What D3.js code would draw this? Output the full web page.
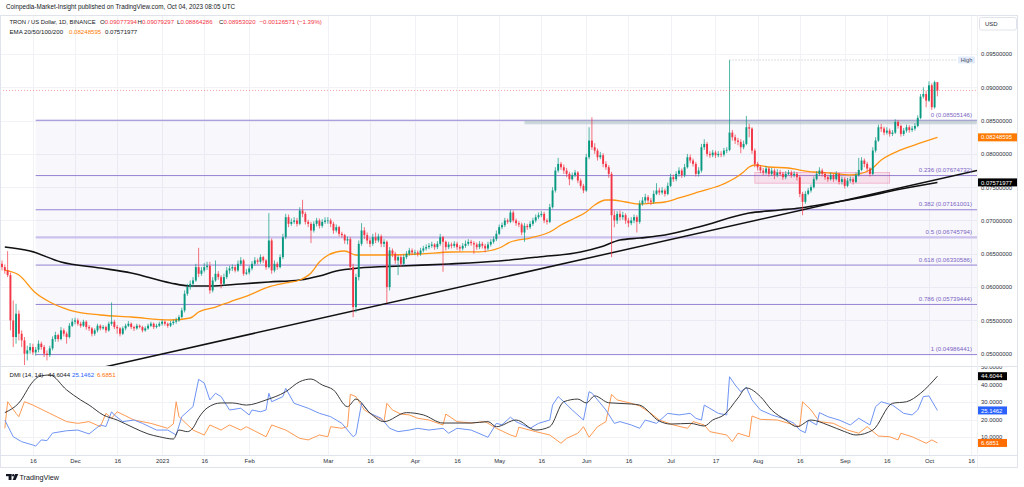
<!DOCTYPE html>
<html>
<head>
<meta charset="utf-8">
<script src="https://d3js.org/d3.v7.min.js"></script>
<style>
  body { margin: 0; background: #fff; }
  svg { display: block; font-family: "Liberation Sans", Arial, sans-serif; }
</style>
</head>
<body>
<svg id="chart" width="1024" height="487"></svg>
<script>
// ---- data (prices in 1e-5 USD) ----
var firstDay = "2022-11-05";
var P = 1e-5;
var firstOpen = 6350;

var closes = [
  // Nov
  6300,6250,6180,5500,5250,5600,5300,5200,5000,5050,5100,5020,5060,5150,5100,5000,4980,5080,5220,5280,5220,5350,5300,5250,5420,5480,
  // Dec
  5500,5450,5420,5480,5400,5380,5300,5350,5420,5380,5400,5350,5450,5480,5400,5380,5300,5380,5420,5450,5400,5380,5420,5400,5350,5380,5420,5450,5400,5420,5450,
  // Jan
  5480,5450,5420,5460,5480,5500,5550,5650,5900,6000,6050,6100,6300,6200,6250,6300,6320,5950,6100,6200,6150,6050,6150,6250,6280,6300,6250,6350,6400,6200,6220,
  // Feb
  6280,6350,6400,6380,6450,6400,6300,6700,6250,6350,6300,6450,6750,7050,6950,6980,7000,6950,7150,7100,6980,6950,6850,6950,7000,6920,6980,7000,
  // Mar
  7000,6950,6850,6900,6800,6780,6700,6720,6300,5700,6150,6650,6850,6780,6700,6650,6750,6700,6760,6650,6680,6000,6550,6500,6400,6450,6350,6450,6500,6550,6520,
  // Apr
  6520,6500,6550,6580,6600,6620,6640,6600,6650,6750,6680,6600,6640,6620,6650,6600,6580,6620,6650,6680,6660,6640,6600,6650,6620,6580,6640,6680,6720,6800,
  // May
  6900,6930,7000,6980,7120,7000,6960,6940,6820,6920,6900,6950,7000,7050,7080,7100,7000,6980,7200,7450,7750,7850,7800,7750,7700,7620,7680,7720,7600,7520,7450,
  // Jun
  7950,8200,8100,8050,7950,7980,7850,7800,7700,7080,7000,7100,7050,7080,7000,6960,7000,7050,6980,7250,7300,7350,7300,7280,7400,7450,7420,7450,7400,7520,
  // Jul
  7650,7620,7700,7750,7680,7800,7950,7900,7850,7700,7750,8100,8150,8000,7980,8020,7980,8000,7990,8050,8060,8320,8250,8200,8180,8100,8150,8400,8380,8050,7850,
  // Aug
  7800,7750,7720,7780,7700,7750,7680,7720,7700,7650,7700,7720,7680,7700,7650,7400,7280,7400,7450,7500,7620,7700,7750,7700,7650,7620,7680,7620,7700,7580,7620,
  // Sep
  7520,7600,7620,7580,7680,7760,7900,7850,7780,7700,8050,8200,8400,8380,8320,8350,8300,8320,8480,8420,8300,8350,8400,8360,8380,8420,8540,8860,8900,8800,
  // Oct
  9030,8700,9077,8953
];

var highs = [
  6400,6340,6540,6220,5800,5750,5650,5350,5250,5120,5160,5150,5100,5200,5180,5130,5050,5120,5260,5330,5300,5400,5380,5330,5460,5530,
  5540,5530,5480,5510,5500,5430,5400,5380,5450,5440,5430,5420,5480,5770,5510,5430,5400,5410,5450,5490,5470,5420,5450,5440,5420,5410,5450,5480,5470,5450,5480,
  5510,5500,5470,5490,5510,5540,5580,5690,5950,6050,6100,6150,6350,6590,6300,6360,6380,6380,6150,6400,6240,6180,6200,6300,6320,6340,6330,6400,6450,6420,6270,
  6320,6390,6450,6430,6490,6470,6420,7110,6730,6400,6380,6490,6800,7100,7090,7030,7050,7040,7200,7310,7130,7010,6980,6990,7040,7030,7020,7050,
  7050,7030,6980,6940,6920,6830,6800,6760,6750,6350,6200,6700,6960,6900,6820,6740,6800,6820,6800,6790,6720,6700,6600,6580,6530,6480,6480,6490,6540,6590,6580,
  6560,6550,6590,6620,6640,6660,6680,6660,6690,6800,6770,6700,6680,6670,6690,6680,6630,6660,6700,6720,6710,6690,6670,6690,6680,6650,6680,6720,6760,6850,
  6940,6970,7040,7030,7160,7150,7030,6990,6970,6960,6950,6990,7040,7090,7120,7140,7130,7030,7250,7500,7800,7940,7880,7840,7790,7730,7720,7760,7740,7630,7550,
  8000,8400,8550,8160,8080,8030,8010,7890,7830,7730,7150,7140,7150,7130,7110,7040,7050,7090,7080,7300,7350,7400,7380,7340,7450,7560,7490,7500,7480,7570,
  7700,7690,7740,7800,7780,7850,8000,7990,7930,7880,7800,8150,8220,8180,8040,8060,8050,8040,8040,8090,8100,9410,8360,8290,8240,8220,8200,8570,8450,8400,8080,
  7880,7830,7790,7820,7800,7790,7780,7770,7760,7730,7740,7760,7750,7740,7730,7680,7430,7440,7490,7540,7660,7740,7800,7780,7730,7680,7720,7700,7740,7720,7660,
  7650,7640,7660,7650,7720,7940,7950,7930,7880,7800,8100,8250,8440,8450,8410,8400,8380,8360,8520,8510,8440,8390,8440,8430,8420,8460,8580,8900,9000,8950,
  9090,9060,9100,9079
];

var lows = [
  6250,6200,6150,5350,5100,5150,5200,5100,4830,4900,5000,4980,4970,5020,5060,4950,4900,4950,5050,5180,5180,5200,5260,5150,5230,5400,
  5440,5420,5390,5400,5360,5340,5260,5270,5320,5350,5360,5310,5330,5420,5370,5300,5260,5280,5350,5400,5370,5340,5360,5380,5320,5330,5360,5400,5370,5380,5400,
  5420,5420,5390,5400,5430,5450,5480,5530,5620,5870,5960,6000,6080,6150,6170,6220,6260,5900,5920,6080,6110,5980,6020,6120,6200,6240,6220,6230,6320,6170,6180,
  6190,6250,6320,6340,6350,6360,6260,6280,6200,6220,6260,6280,6420,6720,6900,6920,6950,6910,6930,7050,6940,6900,6660,6820,6910,6880,6890,6950,
  6950,6900,6800,6820,6760,6740,6650,6640,6250,5550,5620,6100,6620,6720,6650,6600,6620,6660,6670,6600,6600,5760,5950,6450,6350,6180,6300,6320,6420,6470,6480,
  6480,6460,6470,6520,6550,6570,6590,6560,6570,6620,6230,6550,6570,6580,6590,6560,6540,6550,6590,6620,6620,6500,6560,6570,6580,6520,6550,6610,6650,6690,
  6780,6870,6900,6950,6960,6970,6920,6900,6780,6680,6860,6870,6920,6970,7020,7050,6960,6940,6960,7180,7420,7720,7760,7700,7650,7530,7600,7650,7560,7480,7410,
  7430,7920,8060,8000,7900,7920,7800,7760,7640,6450,6900,6950,7000,7010,6950,6900,6930,6960,6820,6950,7220,7260,7250,7230,7250,7380,7380,7390,7360,7380,
  7500,7580,7590,7660,7640,7650,7780,7860,7810,7660,7660,7720,8060,7960,7940,7950,7940,7950,7950,7960,8010,8040,8200,8150,8130,8010,8070,8130,8250,8000,7800,
  7750,7710,7680,7690,7660,7670,7620,7650,7670,7610,7620,7680,7640,7650,7600,7350,7080,7250,7380,7420,7480,7600,7670,7660,7610,7580,7600,7580,7600,7540,7540,
  7480,7500,7570,7540,7560,7660,7740,7800,7740,7660,7680,8020,8180,8330,8280,8290,8260,8270,8300,8380,8260,8270,8320,8320,8330,8350,8400,8520,8830,8700,
  8780,8660,8680,8864
];

// EMA lines: [day index, price]
var emaOrange = [[1,0.06256],[6,0.06182],[12,0.05911],[17,0.05776],[24,0.05656],[35,0.05581],[46,0.05551],[60,0.05506],
  [67,0.05536],[70,0.05626],[76,0.05701],[81,0.05776],[88,0.05881],[95,0.06002],[101,0.06062],[106,0.06107],[110,0.06212],
  [113,0.06377],[119,0.06527],[122,0.06542],[126,0.06482],[135,0.06482],[149,0.06497],[160,0.06527],[170,0.06530],
  [177,0.06587],[181,0.06677],[188,0.06737],[195,0.06827],[199,0.06932],[204,0.07037],[208,0.07128],[211,0.07233],
  [215,0.07308],[217,0.07308],[222,0.07278],[227,0.07248],[232,0.07263],[236,0.07278],[241,0.07338],[248,0.07428],
  [256,0.07533],[261,0.07638],[264,0.07728],[266,0.07803],[268,0.07833],[273,0.07803],[280,0.07788],[284,0.07758],
  [289,0.07728],[295,0.07713],[302,0.07683],[309,0.07758],[313,0.07908],[320,0.08059],[327,0.08164],[333,0.08248595]];
var emaBlack = [[1,0.06602],[10,0.06542],[21,0.06377],[35,0.06287],[46,0.06212],[60,0.06062],[67,0.06017],[74,0.06017],
  [85,0.06047],[95,0.06077],[106,0.06107],[113,0.06167],[119,0.06242],[127,0.06287],[142,0.06317],[159,0.06347],
  [177,0.06392],[191,0.06452],[206,0.06527],[213,0.06602],[220,0.06707],[227,0.06737],[236,0.06782],[248,0.06902],
  [266,0.07112],[277,0.07158],[284,0.07188],[295,0.07263],[305,0.07338],[320,0.07473],[333,0.07571977]];

// trendline anchors
var trendDates = ["2022-12-13", "2023-10-17"];
var trendPrices = [0.04815, 0.0774];

// fibonacci retracement
var fibRatios = ["0", "0.236", "0.382", "0.5", "0.618", "0.786", "1"];
var fibPrices = [0.08505146, 0.07674732, 0.07161001, 0.06745794, 0.06330586, 0.05739444, 0.04986441];
var fibStart = "2022-11-17";

// drawn rectangles: [start date, end date, top price, bottom price]
var greyZone = ["2023-05-10", "2023-10-18", 0.08505, 0.08445];
var pinkZone = ["2023-07-31", "2023-09-17", 0.0772, 0.0756];

// DMI (14,14): [day index, value]
var adx = [[1,23.9],[6,29.4],[11,41.5],[13,44.3],[17,45.3],[23,36.8],[28,31.1],[31,28.2],[36,22.6],[41,19.7],[47,15.2],
  [52,11.8],[56,10.2],[61,8.9],[63,14.0],[66,13.1],[68,15.2],[70,20.9],[73,26.5],[78,29.4],[82,29.4],[87,28.2],[94,31.1],
  [101,35.8],[106,41.5],[110,43.0],[114,39.6],[118,36.8],[123,27.3],[126,31.6],[131,23.7],[136,18.8],[144,23.9],[150,22.6],
  [157,18.0],[167,18.0],[173,18.8],[176,15.9],[183,19.7],[190,14.0],[195,15.9],[200,30.1],[205,31.6],[208,29.4],[211,33.4],
  [216,29.5],[224,28.8],[227,28.2],[234,19.1],[238,17.4],[245,17.8],[250,16.3],[253,19.7],[257,22.6],[262,32.2],[265,37.9],
  [270,33.0],[274,25.4],[279,19.7],[283,15.9],[288,19.7],[294,16.9],[300,13.1],[304,11.2],[310,14.0],[317,29.2],[322,30.1],
  [327,34.9],[333,44.6044]];
var diPlus = [[1,19.7],[4,10.2],[7,7.4],[11,5.5],[12,4.9],[14,8.4],[16,8.0],[18,12.3],[23,13.6],[27,14.0],[31,11.8],[35,16.9],
  [37,16.0],[39,24.4],[40,22.5],[43,18.8],[47,19.7],[50,17.8],[55,14.0],[59,14.0],[62,11.2],[64,21.6],[68,27.3],[70,42.8],
  [72,40.7],[74,31.1],[76,34.9],[78,33.0],[81,25.4],[85,26.4],[88,22.6],[89,25.4],[92,24.4],[94,25.4],[95,34.9],[96,30.1],
  [100,33.0],[101,37.7],[104,29.2],[109,26.4],[113,23.5],[117,21.6],[121,17.8],[125,10.2],[126,11.5],[128,29.2],[131,23.5],
  [135,20.7],[138,15.0],[141,13.1],[145,14.0],[148,15.0],[152,14.0],[157,15.0],[159,12.2],[162,15.0],[167,14.0],[173,9.9],
  [176,17.8],[178,17.0],[181,21.3],[183,18.8],[188,15.0],[191,17.8],[195,19.7],[196,28.2],[198,33.0],[200,30.1],[203,25.4],
  [207,19.7],[209,35.8],[210,35.0],[215,25.4],[218,17.8],[220,18.8],[224,16.9],[227,15.0],[229,19.7],[233,17.8],[237,23.5],
  [241,22.6],[245,23.5],[247,20.7],[249,19.7],[250,28.2],[255,23.5],[258,22.6],[259,44.3],[261,39.6],[263,35.8],[265,38.3],
  [267,31.1],[270,25.4],[274,22.6],[279,20.1],[282,17.8],[284,14.0],[286,12.5],[287,19.7],[290,16.9],[291,23.9],[294,21.6],
  [298,19.7],[302,16.9],[305,20.7],[309,16.9],[311,27.3],[313,30.1],[317,28.2],[321,23.5],[324,22.6],[326,25.4],[328,33.0],
  [330,33.4],[333,25.1462]];
var diMinus = [[1,15.0],[2,30.1],[5,23.5],[6,21.6],[8,30.1],[11,28.2],[17,23.5],[23,18.8],[27,17.8],[31,18.8],[35,15.9],
  [37,23.5],[39,20.7],[41,24.4],[47,19.7],[53,17.8],[59,15.0],[61,17.5],[62,30.1],[63,21.6],[68,14.0],[72,11.2],[74,16.9],
  [78,14.0],[81,16.9],[85,14.0],[87,15.9],[94,10.2],[96,16.9],[101,14.0],[106,9.3],[109,8.4],[113,11.2],[116,10.2],[117,15.9],
  [121,15.0],[123,15.9],[124,34.3],[126,33.0],[129,25.4],[131,23.5],[135,20.1],[136,18.8],[137,29.2],[139,25.4],[142,23.1],
  [145,22.6],[148,20.7],[152,19.7],[157,16.9],[158,23.1],[162,18.8],[167,18.0],[172,18.8],[176,15.0],[181,11.2],[183,10.2],
  [184,15.6],[190,13.1],[195,11.2],[199,6.5],[201,9.3],[205,12.2],[207,15.9],[209,9.9],[212,15.9],[215,18.8],[217,34.3],
  [219,31.1],[224,29.2],[227,27.7],[231,23.5],[234,19.7],[239,16.9],[244,15.0],[246,18.8],[250,16.9],[252,13.1],[258,11.2],
  [260,7.4],[262,12.2],[266,10.2],[267,22.0],[270,20.1],[276,19.7],[282,16.9],[284,16.0],[285,30.1],[288,25.4],[291,18.8],
  [296,17.8],[301,14.0],[305,12.2],[308,15.9],[312,10.6],[316,10.2],[319,8.4],[320,12.2],[324,10.2],[329,6.5],[331,8.4],
  [333,6.6851]];

// x axis labels
var tickDates = ["2022-11-16","2022-12-01","2022-12-16","2023-01-01","2023-01-16","2023-02-01","2023-03-01","2023-03-16",
  "2023-04-01","2023-04-16","2023-05-01","2023-05-16","2023-06-01","2023-06-16","2023-07-01","2023-07-17","2023-08-01",
  "2023-08-16","2023-09-01","2023-09-16","2023-10-01","2023-10-16"];
var tickLabels = ["16","Dec","16","2023","16","Feb","Mar","16","Apr","16","May","16","Jun","16","Jul","17","Aug","16","Sep","16","Oct","16"];

var legendOHLC = ["0.09077394", "0.09079297", "0.08864286", "0.08953020"];
var legendChange = "\u22120.00126571 (\u22121.39%)";

// ---- setup ----
var parse = d3.utcParse("%Y-%m-%d");
var up = "#089981", down = "#f23645";
var plotR = 977, mainTop = 15, mainBot = 366, dmiBot = 455;

var start = parse(firstDay);
var days = closes.map(function (c, i) { return d3.utcDay.offset(start, i); });
var candles = closes.map(function (c, i) {
  return { date: days[i], o: (i ? closes[i - 1] : firstOpen) * P, h: highs[i] * P, l: lows[i] * P, c: c * P };
});

var x = d3.scaleUtc().domain([days[0], days[days.length - 1]]).range([2, 937.4]);
var y = d3.scaleLinear().domain([0.05, 0.095]).range([353.7, 54]);
var yd = d3.scaleLinear().domain([0, 50]).range([454.7, 366.7]);

var svg = d3.select("#chart");
var defs = svg.append("defs");
defs.append("clipPath").attr("id", "clipMain").append("rect")
  .attr("x", 0).attr("y", mainTop).attr("width", plotR).attr("height", mainBot - mainTop);
defs.append("clipPath").attr("id", "clipDmi").append("rect")
  .attr("x", 0).attr("y", mainBot).attr("width", plotR).attr("height", dmiBot - mainBot);
defs.append("clipPath").attr("id", "clipDmiAxis").append("rect")
  .attr("x", plotR).attr("y", mainBot + 0.5).attr("width", 47).attr("height", dmiBot - mainBot);

svg.append("rect").attr("width", 1024).attr("height", 487).attr("fill", "#fff");

// grid
var priceTicks = y.ticks(10);
var gGrid = svg.append("g").attr("stroke", "#f0f2f6").attr("stroke-width", 1);
gGrid.selectAll("line.h").data(priceTicks).enter().append("line")
  .attr("x1", 0).attr("x2", plotR).attr("y1", function (d) { return Math.round(y(d)) + 0.5; })
  .attr("y2", function (d) { return Math.round(y(d)) + 0.5; });
gGrid.selectAll("line.hd").data([10, 20, 30, 40]).enter().append("line")
  .attr("x1", 0).attr("x2", plotR).attr("y1", function (d) { return Math.round(yd(d)) + 0.5; })
  .attr("y2", function (d) { return Math.round(yd(d)) + 0.5; });
gGrid.selectAll("line.v").data(tickDates).enter().append("line")
  .attr("x1", function (d) { return Math.round(x(parse(d))) + 0.5; })
  .attr("x2", function (d) { return Math.round(x(parse(d))) + 0.5; })
  .attr("y1", mainTop).attr("y2", dmiBot);

// main pane drawings
var gMain = svg.append("g").attr("clip-path", "url(#clipMain)");

// fib background + levels
var fx0 = x(parse(fibStart));
gMain.append("rect").attr("x", fx0).attr("y", y(fibPrices[0]))
  .attr("width", plotR - fx0).attr("height", y(fibPrices[6]) - y(fibPrices[0]))
  .attr("fill", "rgba(126,102,197,0.05)");
gMain.selectAll("line.fib").data(fibPrices).enter().append("line")
  .attr("x1", fx0).attr("x2", plotR)
  .attr("y1", function (d) { return y(d); }).attr("y2", function (d) { return y(d); })
  .attr("stroke", function (d, i) { return i === 3 ? "#cbc1ec" : "#9582d4"; })
  .attr("stroke-width", function (d, i) { return i === 3 ? 2.2 : 1; });

// zones
function zone(z, fill, stroke) {
  gMain.append("rect").attr("x", x(parse(z[0]))).attr("y", y(z[2]))
    .attr("width", x(parse(z[1])) - x(parse(z[0]))).attr("height", y(z[3]) - y(z[2]))
    .attr("fill", fill).attr("stroke", stroke).attr("stroke-width", 0.8);
}
zone(greyZone, "rgba(150,175,180,0.45)", "none");
zone(pinkZone, "rgba(233,30,99,0.10)", "rgba(233,30,99,0.30)");

// EMAs and trendline
var lineIdx = d3.line().x(function (d) { return x(days[d[0]]); }).y(function (d) { return y(d[1]); })
  .curve(d3.curveMonotoneX);
gMain.append("path").datum(emaBlack).attr("d", lineIdx)
  .attr("fill", "none").attr("stroke", "#111").attr("stroke-width", 1.6);
gMain.append("path").datum(emaOrange).attr("d", lineIdx)
  .attr("fill", "none").attr("stroke", "#ff9510").attr("stroke-width", 1.3);

var t0 = parse(trendDates[0]), t1 = parse(trendDates[1]);
var slope = (trendPrices[1] - trendPrices[0]) / (t1 - t0);
var tA = x.invert(0), tB = x.invert(plotR);
gMain.append("line")
  .attr("x1", 0).attr("y1", y(trendPrices[0] + slope * (tA - t0)))
  .attr("x2", plotR).attr("y2", y(trendPrices[0] + slope * (tB - t0)))
  .attr("stroke", "#111").attr("stroke-width", 1.5);

// candles
var bodyW = 1.9;
var cg = gMain.append("g").selectAll("g").data(candles).enter().append("g");
cg.append("line")
  .attr("x1", function (d) { return x(d.date); }).attr("x2", function (d) { return x(d.date); })
  .attr("y1", function (d) { return y(d.h); }).attr("y2", function (d) { return y(d.l); })
  .attr("stroke", function (d) { return d.c >= d.o ? up : down; }).attr("stroke-width", 0.7);
cg.append("rect")
  .attr("x", function (d) { return x(d.date) - bodyW / 2; })
  .attr("y", function (d) { return y(Math.max(d.o, d.c)); })
  .attr("width", bodyW)
  .attr("height", function (d) { return Math.max(0.7, Math.abs(y(d.o) - y(d.c))); })
  .attr("fill", function (d) { return d.c >= d.o ? up : down; });

// high marker line and current price line
var hiIdx = d3.maxIndex(candles, function (d) { return d.h; });
var hiY = y(candles[hiIdx].h);
gMain.append("line").attr("x1", x(candles[hiIdx].date)).attr("x2", 957).attr("y1", hiY).attr("y2", hiY)
  .attr("stroke", "#a6a9b2").attr("stroke-width", 0.8).attr("stroke-dasharray", "1,2");
var last = candles[candles.length - 1];
gMain.append("line").attr("x1", 0).attr("x2", plotR).attr("y1", y(last.c)).attr("y2", y(last.c))
  .attr("stroke", "#f23645").attr("stroke-width", 0.8).attr("stroke-dasharray", "1,2").attr("opacity", 0.6);
svg.append("rect").attr("x", 958).attr("y", hiY - 3.6).attr("width", 17).attr("height", 7.2)
  .attr("fill", "#e3ecfb").attr("rx", 1);
svg.append("text").attr("x", 966.5).attr("y", hiY + 2).attr("text-anchor", "middle")
  .attr("font-size", 5.6).attr("fill", "#4a4f5c").text("High");

// fib labels
svg.selectAll("text.fib").data(fibPrices).enter().append("text")
  .attr("x", 972).attr("y", function (d) { return y(d) - 3.5; })
  .attr("text-anchor", "end").attr("font-size", 6.1).attr("fill", "#7b64c4")
  .text(function (d, i) { return fibRatios[i] + " (" + d.toFixed(8) + ")"; });

// DMI pane
var gDmi = svg.append("g").attr("clip-path", "url(#clipDmi)");
var lineDmi = d3.line().x(function (d) { return x(days[d[0]]); }).y(function (d) { return yd(d[1]); });
gDmi.append("path").datum(diMinus).attr("d", lineDmi)
  .attr("fill", "none").attr("stroke", "#ff9a52").attr("stroke-width", 1);
gDmi.append("path").datum(diPlus).attr("d", lineDmi)
  .attr("fill", "none").attr("stroke", "#6e93f3").attr("stroke-width", 1);
gDmi.append("path").datum(adx).attr("d", lineDmi.curve(d3.curveMonotoneX))
  .attr("fill", "none").attr("stroke", "#3a3a3a").attr("stroke-width", 1);

// frame and separators
var gFrame = svg.append("g").attr("fill", "none").attr("stroke", "#e0e3eb").attr("stroke-width", 1);
gFrame.append("rect").attr("x", 0.5).attr("y", mainTop + 0.5).attr("width", 1017).attr("height", 452);
gFrame.append("line").attr("x1", 0).attr("x2", 1018).attr("y1", mainBot + 0.5).attr("y2", mainBot + 0.5);
gFrame.append("line").attr("x1", 0).attr("x2", 1018).attr("y1", dmiBot + 0.5).attr("y2", dmiBot + 0.5);
gFrame.append("line").attr("x1", plotR + 0.5).attr("x2", plotR + 0.5).attr("y1", mainTop).attr("y2", 467.5)
  .attr("stroke", "#eef0f4");

// right price axis
var axisFont = 5.9, axisCol = "#2a2e39";
var yAxis = d3.axisRight(y).tickValues(priceTicks).tickFormat(d3.format(".8f")).tickSize(0).tickPadding(4);
var gy = svg.append("g").attr("transform", "translate(" + plotR + ",0)").call(yAxis);
gy.select(".domain").remove();
gy.selectAll("text").attr("font-size", axisFont).attr("fill", axisCol).attr("font-family", "Liberation Sans, Arial");

var ydAxis = d3.axisRight(yd).tickValues([10, 20, 30, 40, 50]).tickFormat(d3.format(".4f")).tickSize(0).tickPadding(4);
var gyd = svg.append("g").attr("clip-path", "url(#clipDmiAxis)").append("g")
  .attr("transform", "translate(" + plotR + ",0)").call(ydAxis);
gyd.select(".domain").remove();
gyd.selectAll("text").attr("font-size", axisFont).attr("fill", axisCol).attr("font-family", "Liberation Sans, Arial");

// value tags on the axis
function tag(yPos, w, bg, label) {
  svg.append("rect").attr("x", plotR + 1).attr("y", yPos - 4).attr("width", w).attr("height", 8).attr("fill", bg);
  svg.append("text").attr("x", plotR + 4).attr("y", yPos + 2.1).attr("font-size", axisFont)
    .attr("fill", "#fff").text(label);
}
var oLast = emaOrange[emaOrange.length - 1][1], bLast = emaBlack[emaBlack.length - 1][1];
tag(y(oLast), 39, "#ff7a00", oLast.toFixed(8));
tag(y(bLast), 39, "#000", bLast.toFixed(8));
var adxLast = adx[adx.length - 1][1], pLast = diPlus[diPlus.length - 1][1], mLast = diMinus[diMinus.length - 1][1];
tag(yd(adxLast), 29, "#000", adxLast.toFixed(4));
tag(yd(pLast), 29, "#2962ff", pLast.toFixed(4));
tag(yd(mLast), 29, "#ff6d00", mLast.toFixed(4));

// USD box
svg.append("rect").attr("x", 979.5).attr("y", 17.5).attr("width", 37).attr("height", 12.5).attr("rx", 2)
  .attr("fill", "#fff").attr("stroke", "#e0e3eb");
svg.append("text").attr("x", 985).attr("y", 26).attr("font-size", 6).attr("fill", axisCol).text("USD");

// x axis
var xAxis = d3.axisBottom(x).tickValues(tickDates.map(parse))
  .tickFormat(function (d, i) { return tickLabels[i]; }).tickSize(0).tickPadding(3);
var gx = svg.append("g").attr("transform", "translate(0," + (dmiBot + 0.5) + ")").call(xAxis);
gx.select(".domain").remove();
gx.selectAll("text").attr("font-size", axisFont).attr("fill", axisCol).attr("font-family", "Liberation Sans, Arial");

// header texts
var hdr = svg.append("g").attr("font-size", 6.1).attr("fill", "#131722");
hdr.append("text").attr("x", 6).attr("y", 8.5).attr("font-size", 6.3)
  .text("Coinpedia-Market-Insight published on TradingView.com, Oct 04, 2023 08:05 UTC");
hdr.append("text").attr("x", 9.5).attr("y", 24.2).attr("font-size", 5.85).text("TRON / US Dollar, 1D, BINANCE");
var ohlcX = [100, 137.5, 177, 219];
["O", "H", "L", "C"].forEach(function (k, i) {
  var t = hdr.append("text").attr("x", ohlcX[i]).attr("y", 24.2);
  t.append("tspan").text(k);
  t.append("tspan").attr("fill", "#f23645").text(legendOHLC[i]);
});
hdr.append("text").attr("x", 259.5).attr("y", 24.2).attr("fill", "#f23645").text(legendChange);
hdr.append("text").attr("x", 9.5).attr("y", 33.6).text("EMA 20/50/100/200");
hdr.append("text").attr("x", 69).attr("y", 33.6).attr("fill", "#ff7a00").text(oLast.toFixed(8));
hdr.append("text").attr("x", 105).attr("y", 33.6).text(bLast.toFixed(8));

var dl = svg.append("text").attr("x", 9.5).attr("y", 377).attr("font-size", 6.1).attr("fill", "#131722");
dl.append("tspan").text("DMI (14, 14)");
dl.append("tspan").attr("x", 48).text(adxLast.toFixed(4));
dl.append("tspan").attr("x", 72).attr("fill", "#2962ff").text(pLast.toFixed(4));
dl.append("tspan").attr("x", 97).attr("fill", "#ff6d00").text(mLast.toFixed(4));

// TradingView logo
var logo = svg.append("g").attr("fill", "#131722");
logo.append("rect").attr("x", 6).attr("y", 474).attr("width", 5.5).attr("height", 2.2);
logo.append("rect").attr("x", 8.6).attr("y", 474).attr("width", 2.9).attr("height", 6);
logo.append("circle").attr("cx", 13.3).attr("cy", 475.2).attr("r", 1.2);
logo.append("path").attr("d", "M15.2,474 L18.3,474 L15.6,480 L12.6,480 Z");
svg.append("text").attr("x", 19.5).attr("y", 479.6).attr("font-size", 7.2).attr("fill", "#131722").text("TradingView");
</script>
</body>
</html>
